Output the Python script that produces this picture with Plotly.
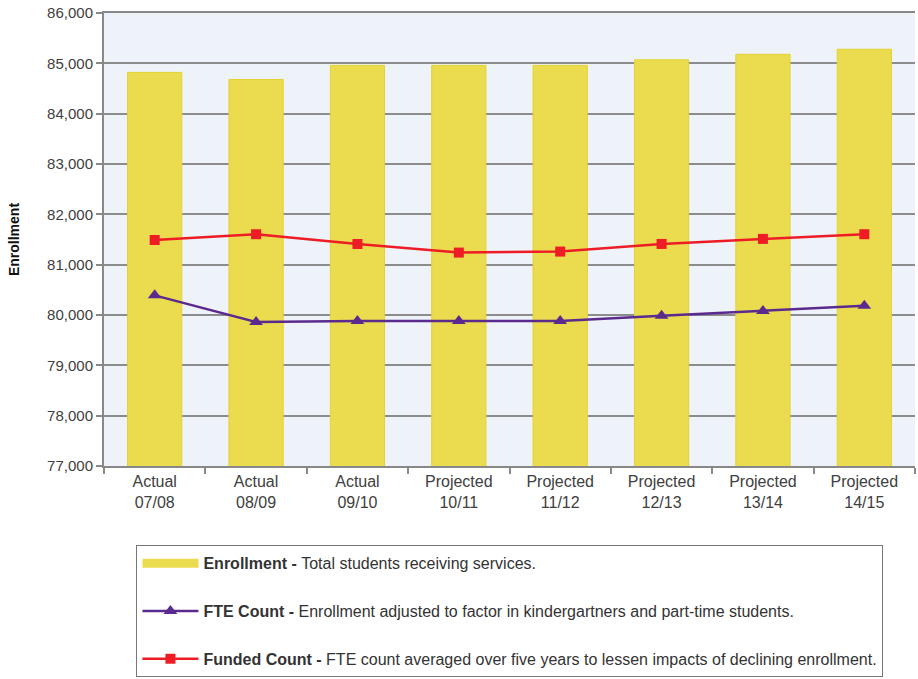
import plotly.graph_objects as go

categories = ["Actual<br>07/08", "Actual<br>08/09", "Actual<br>09/10", "Projected<br>10/11",
              "Projected<br>11/12", "Projected<br>12/13", "Projected<br>13/14", "Projected<br>14/15"]
enrollment = [84820, 84680, 84960, 84960, 84960, 85070, 85180, 85280]
fte_count = [80390, 79860, 79880, 79880, 79880, 79985, 80080, 80185]
funded_count = [81490, 81605, 81410, 81240, 81260, 81412, 81512, 81605]
y_ticks = [77000, 78000, 79000, 80000, 81000, 82000, 83000, 84000, 85000, 86000]

font_family = "Liberation Sans, Arial, sans-serif"
bar_color = "#EBDB4F"

fig = go.Figure()
fig.add_trace(go.Bar(
    x=categories, y=enrollment,
    name="Enrollment",
    marker=dict(color=bar_color, line=dict(color="#E3D230", width=1)),
    showlegend=False,
))
# legend entry for the bars (wide swatch like the original)
fig.add_trace(go.Scatter(
    x=[None], y=[None], mode="lines",
    name="<b>Enrollment - </b>Total students receiving services.",
    line=dict(color=bar_color, width=9),
    legendgroup="a",
))
fig.add_trace(go.Scatter(
    x=categories, y=fte_count, mode="lines+markers",
    name="<b>FTE Count - </b>Enrollment adjusted to factor in kindergartners and part-time students.",
    line=dict(color="#5B2A8E", width=2.5),
    marker=dict(symbol="triangle-up", size=12, color="#5B2A8E"),
    legendgroup="b",
))
fig.add_trace(go.Scatter(
    x=categories, y=funded_count, mode="lines+markers",
    name="<b>Funded Count - </b>FTE count averaged over five years to lessen impacts of declining enrollment.",
    line=dict(color="#EE1C25", width=2.5),
    marker=dict(symbol="square", size=10, color="#EE1C25"),
    legendgroup="c",
))

fig.update_layout(
    width=918, height=679,
    margin=dict(l=104, r=3, t=13, b=213, autoexpand=False),
    paper_bgcolor="white",
    plot_bgcolor="#EEF3FA",
    font=dict(family=font_family, color="#404040", size=15),
    bargap=0.465,
    showlegend=True,
    legend=dict(
        x=0.04, xanchor="left",
        y=-0.175, yanchor="top",
        bordercolor="#777777", borderwidth=1,
        bgcolor="white",
        font=dict(size=16, color="#333333"),
        tracegroupgap=24,
        itemwidth=56,
        traceorder="grouped",
    ),
    xaxis=dict(
        type="category",
        automargin=False,
        tickson="boundaries",
        ticks="outside", ticklen=6, tickcolor="#888888", tickwidth=2,
        showline=True, linecolor="#888888", linewidth=2,
        mirror=True,
        showgrid=False,
        tickfont=dict(size=16, color="#404040"),
    ),
    yaxis=dict(
        range=[77000, 86000],
        automargin=False,
        tickvals=y_ticks,
        tickformat=",",
        ticklabeloverflow="allow",
        ticks="outside", ticklen=6, tickcolor="#888888", tickwidth=2,
        showline=True, linecolor="#888888", linewidth=2,
        showgrid=True, gridcolor="#8C8C8C", gridwidth=2,
        zeroline=False,
        tickfont=dict(size=15, color="#404040"),
        title=dict(text="<b>Enrollment</b>", font=dict(size=14, color="#111111"), standoff=24),
    ),
)

fig.write_html("out.html", config={"displayModeBar": False},
               post_script="document.body.style.margin='0px';")
